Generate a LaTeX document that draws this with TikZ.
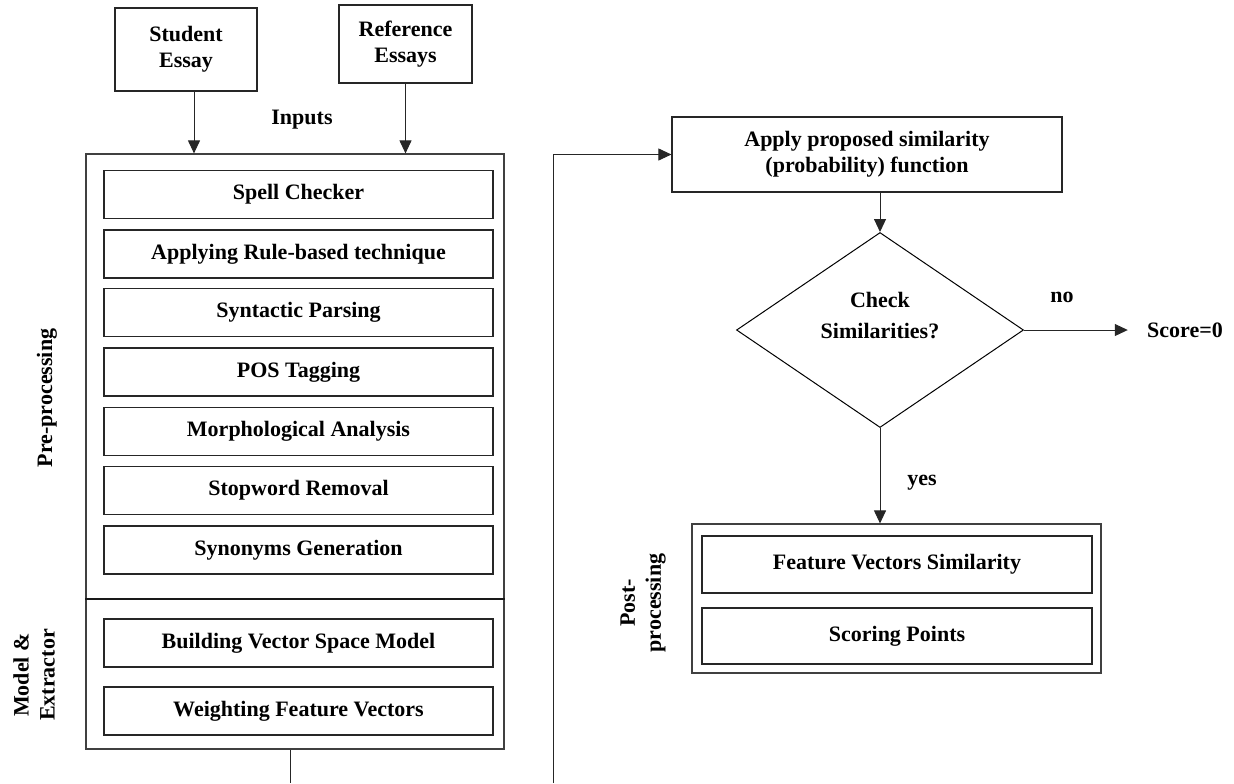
\documentclass[tikz,border=0pt]{standalone}
\usepackage{fontspec}
\setmainfont{Liberation Serif}
\usepackage{tikz}
\usetikzlibrary{arrows.meta,shapes.geometric}
\tikzset{
	stepbox/.style={draw=black!85,line width=0.6pt,minimum width=194.5pt,minimum height=24pt,inner sep=0pt,font=\bfseries},
	outerbox/.style={draw=black!75,line width=0.6pt,inner sep=0pt},
	inbox/.style={draw=black!85,line width=0.6pt,inner sep=0pt,font=\bfseries,align=center},
	lbl/.style={font=\bfseries,align=center,inner sep=0pt},
	arr/.style={-{Triangle[length=6.5pt,width=6pt]},line width=0.5pt,black!85},
}
\begin{document}
\begin{tikzpicture}[x=0.5pt,y=-0.5pt]
			\useasboundingbox (0,0) rectangle (1234,783);
			\fontsize{11}{13}\selectfont

			% inputs
			\node[inbox,minimum width=71pt,minimum height=41.5pt] (stu) at (186,49.5) {Student\\Essay};
			\node[inbox,minimum width=66.5pt,minimum height=39pt] (ref) at (405.5,44) {Reference\\Essays};
			\node[lbl] (inp) at (302,120) {Inputs};

			% pre-processing block
			\node[outerbox,minimum width=209pt,minimum height=297.5pt] (pre) at (295,451.5) {};
			\node[stepbox] (spell) at (298.5,194.5) {Spell Checker};
			\node[stepbox] (rule) at (298.5,254) {Applying Rule-based technique};
			\node[stepbox] (parse) at (298.5,312.5) {Syntactic Parsing};
			\node[stepbox] (pos) at (298.5,372) {POS Tagging};
			\node[stepbox] (morph) at (298.5,431.5) {Morphological Analysis};
			\node[stepbox] (stop) at (298.5,490.5) {Stopword Removal};
			\node[stepbox] (syn) at (298.5,550) {Synonyms Generation};
			\draw[black!90,line width=0.6pt] (pre.west |- 0,599) -- (pre.east |- 0,599);
			\node[stepbox] (vsm) at (298.5,643) {Building Vector Space Model};
			\node[stepbox] (weight) at (298.5,711) {Weighting Feature Vectors};

			% side labels
			\node[lbl,rotate=90] (prelbl) at (47,398) {Pre-processing};
			\node[lbl,rotate=90] (modlbl) at (34,675) {Model \&\\Extractor};

			% input arrows
			\draw[arr] ([xshift=4pt]stu.south) -- ([xshift=4pt]stu.south |- pre.north);
			\draw[arr] (ref.south) -- (ref.south |- pre.north);

			% connector to the right half (runs off the bottom)
			\coordinate (botL) at (290,783);
			\coordinate (botR) at (553,783);
			\draw[black!85,line width=0.5pt] (pre.south -| botL) -- (botL);

			% similarity function and decision
			\node[inbox,minimum width=195pt,minimum height=37.5pt] (apply) at (867,154.5) {Apply proposed similarity\\(probability) function};
			\draw[arr] (botR) |- (apply.west);
			\node[draw,diamond,line width=0.5pt,minimum width=143.5pt,minimum height=97.5pt,inner sep=0pt] (dia) at (880,330) {};
			\node[lbl] (dialbl) at (880,316) {Check\\[2.5pt]Similarities?};
			\draw[arr] (apply.south -| dia.north) -- (dia.north);
			\node[lbl] (score) at (1185,330) {Score=0};
			\draw[arr] (dia.east) -- ([xshift=-9.5pt]score.west);
			\node[lbl] (no) at (1062,297) {no};

			% post-processing block
			\node[outerbox,minimum width=204.5pt,minimum height=74.5pt] (post) at (896.5,598.5) {};
			\node[stepbox,minimum width=195pt,minimum height=28.5pt] (feat) at (897,564.5) {Feature Vectors Similarity};
			\node[stepbox,minimum width=195pt,minimum height=28pt] (scorepts) at (897,636) {Scoring Points};
			\draw[arr] (dia.south) -- (dia.south |- post.north);
			\node[lbl] (yes) at (922,483) {yes};
			\node[lbl,rotate=90] (postlbl) at (643,603) {Post-\\processing};

\end{tikzpicture}
\end{document}
